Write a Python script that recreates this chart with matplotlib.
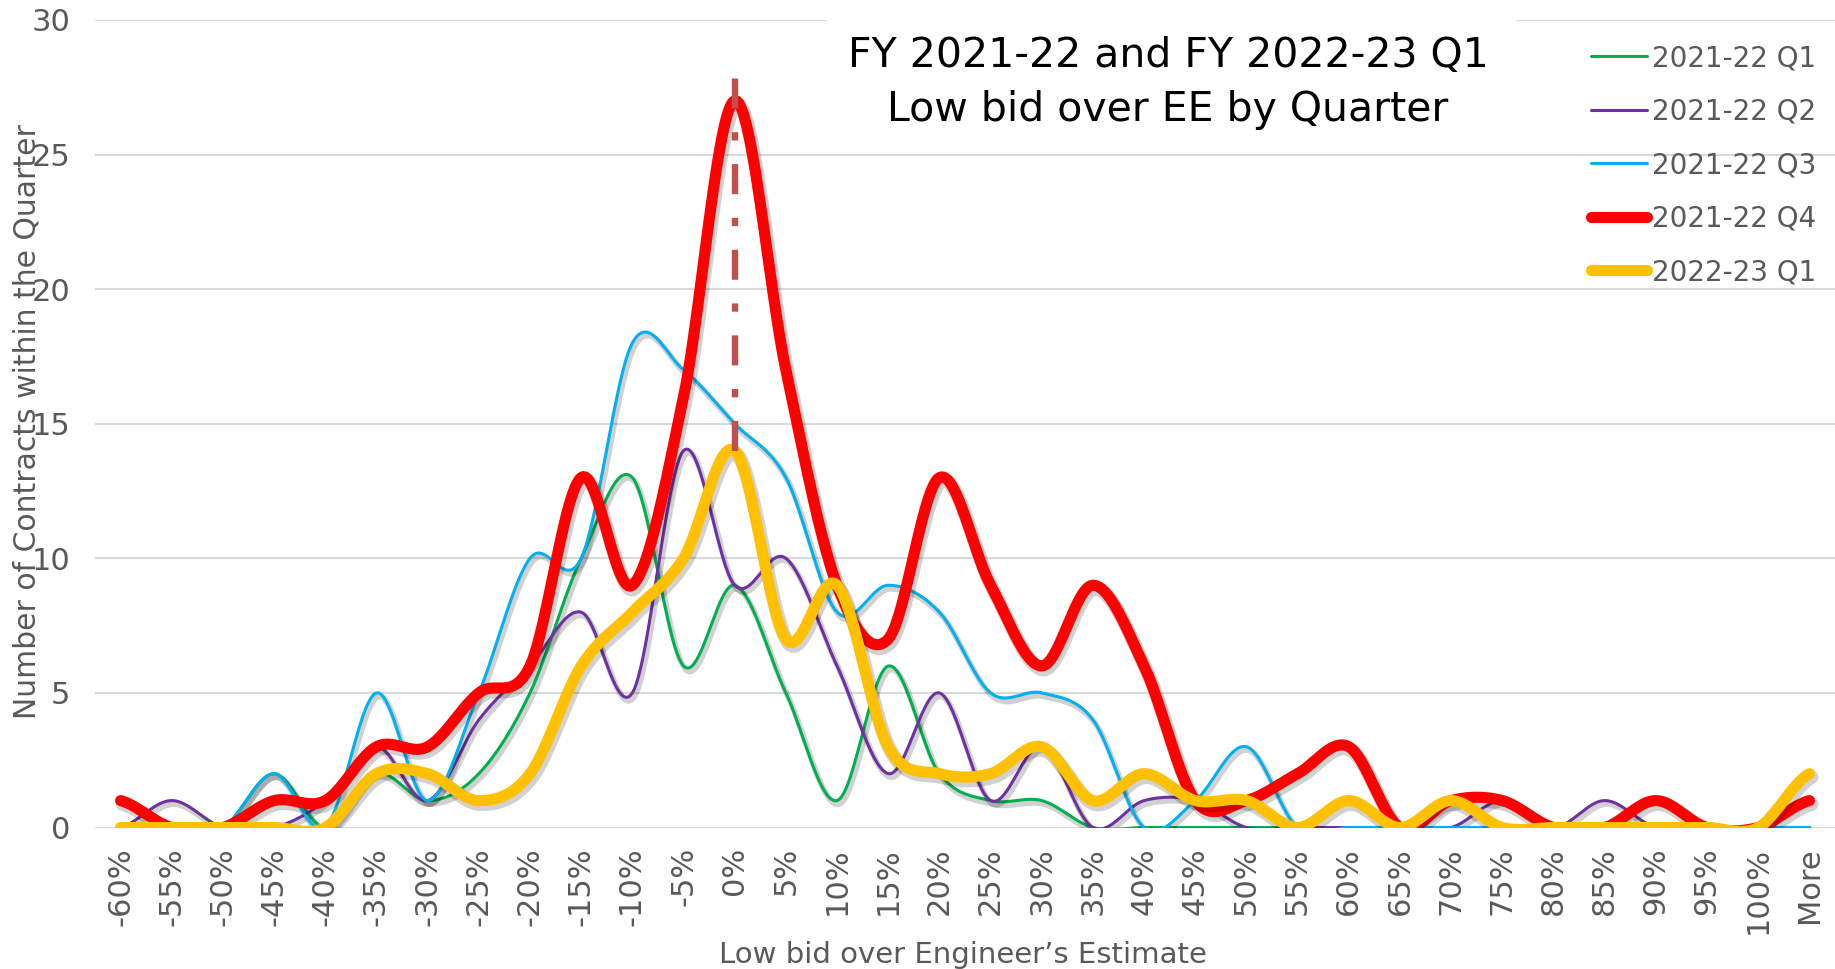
import numpy as np
import matplotlib
matplotlib.use("Agg")
import matplotlib.pyplot as plt
import matplotlib.patheffects as pe
from matplotlib.patches import Rectangle

# categories (bins of low bid over EE)
categories = ['-60%', '-55%', '-50%', '-45%', '-40%', '-35%', '-30%', '-25%', '-20%',
              '-15%', '-10%', '-5%', '0%', '5%', '10%', '15%', '20%', '25%', '30%',
              '35%', '40%', '45%', '50%', '55%', '60%', '65%', '70%', '75%', '80%',
              '85%', '90%', '95%', '100%', 'More']

q1_2122 = [0, 0, 0, 2, 0, 2, 1, 2, 5, 10, 13, 6, 9, 5, 1, 6, 2, 1, 1, 0, 0,
           0, 0, 0, 0, 0, 0, 0, 0, 0, 0, 0, 0, 0]
q2_2122 = [0, 1, 0, 0, 1, 3, 1, 4, 6, 8, 5, 14, 9, 10, 6, 2, 5, 1, 3, 0, 1,
           1, 0, 0, 0, 0, 0, 1, 0, 1, 0, 0, 0, 0]
q3_2122 = [0, 0, 0, 2, 0, 5, 1, 5, 10, 10, 18, 17, 15, 13, 8, 9, 8, 5, 5, 4, 0,
           1, 3, 0, 0, 0, 0, 0, 0, 0, 0, 0, 0, 0]
q4_2122 = [1, 0, 0, 1, 1, 3, 3, 5, 6, 13, 9, 16, 27, 17, 9, 7, 13, 9, 6, 9, 6,
           1, 1, 2, 3, 0, 1, 1, 0, 0, 1, 0, 0, 1]
q1_2223 = [0, 0, 0, 0, 0, 2, 2, 1, 2, 6, 8, 10, 14, 7, 9, 3, 2, 2, 3, 1, 2,
           1, 1, 0, 1, 0, 1, 0, 0, 0, 0, 0, 0, 2]

series_names = ['2021-22 Q1', '2021-22 Q2', '2021-22 Q3', '2021-22 Q4', '2022-23 Q1']
series_vals = [q1_2122, q2_2122, q3_2122, q4_2122, q1_2223]
colors = ['#00B050', '#7030A0', '#00B0F0', '#FF0000', '#FFC000']
widths = [2.2, 2.2, 2.2, 8.0, 8.0]

# marker line at 0% (from top of 2022-23 Q1 peak)
ee_line = (14, 28.3)

gray = '#595959'


# smooth line like Excel (bezier through every point)
def smooth(vals, n=24):
    y = np.asarray(vals, float)
    yp = np.concatenate([[y[0]], y, [y[-1]]])
    t = np.linspace(0, 1, n, endpoint=False)
    xs, ys = [], []
    for i in range(len(y) - 1):
        p0, p3 = y[i], y[i + 1]
        p1 = p0 + (yp[i + 2] - yp[i]) / 6
        p2 = p3 - (yp[i + 3] - yp[i + 1]) / 6
        b = (1 - t) ** 3 * p0 + 3 * (1 - t) ** 2 * t * p1 + 3 * (1 - t) * t ** 2 * p2 + t ** 3 * p3
        xs.append(i + t)
        ys.append(b)
    xs.append([len(y) - 1])
    ys.append([y[-1]])
    return np.concatenate(xs), np.concatenate(ys)


fig = plt.figure(figsize=(18.35, 9.69), dpi=100)
ax = fig.add_axes([95 / 1835, 141.5 / 969, 1740 / 1835, 807.6 / 969])

for name, vals, c, lw in zip(series_names, series_vals, colors, widths):
    xs, ys = smooth(vals)
    ax.plot(xs, ys, color=c, lw=lw, label=name, solid_capstyle='round',
            path_effects=[pe.SimpleLineShadow(offset=(1.5, -2.5), shadow_color='black',
                                              alpha=0.18, linewidth=lw + 2),
                          pe.Normal()])

ax.plot([categories.index('0%')] * 2, ee_line, color='#C0504D', lw=4.6,
        linestyle=(0, (4.7, 3.7, 1.3, 3.7)), dash_capstyle='butt', zorder=5)

ax.set_xlim(-0.5, len(categories) - 0.5)
ax.set_ylim(0, 30)
ax.set_yticks(range(0, 31, 5))
ax.set_xticks(range(len(categories)))
ax.set_xticklabels(categories, rotation=90)
ax.grid(axis='y', color='#D9D9D9', lw=1.5)
ax.set_axisbelow(True)
for s in ax.spines.values():
    s.set_visible(False)
ax.tick_params(axis='both', length=0, labelcolor=gray, labelsize=22)
ax.tick_params(axis='y', pad=18)
ax.tick_params(axis='x', pad=14)

ax.set_ylabel('Number of Contracts within the Quarter', color=gray, fontsize=21.5)
ax.yaxis.set_label_coords(-0.031, 0.503)
ax.set_xlabel('Low bid over Engineer\u2019s Estimate', color=gray, fontsize=21)
ax.xaxis.set_label_coords(0.499, -0.140)

# title with white box over gridline
fig.add_artist(Rectangle((827 / 1835, 1 - 125 / 969), (1516 - 827) / 1835, 125 / 969,
                         transform=fig.transFigure, facecolor='white', edgecolor='none', zorder=2))
fig.text(1168 / 1835, 1 - 83 / 969, 'FY 2021-22 and FY 2022-23 Q1\nLow bid over EE by Quarter',
         ha='center', va='center', fontsize=29.5, color='black', linespacing=1.45, zorder=3)

leg = ax.legend(loc='upper left', bbox_to_anchor=(1566 / 1835, 1 - 19 / 969),
                bbox_transform=fig.transFigure, frameon=False, fontsize=20,
                handlelength=2.0, handletextpad=0.2, labelspacing=0.92)
for t in leg.get_texts():
    t.set_color(gray)
for h in leg.get_lines():
    h.set_path_effects([])

fig.savefig('out.png', dpi=100)
